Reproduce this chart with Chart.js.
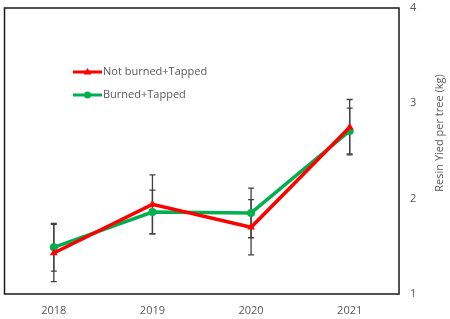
<!DOCTYPE html>
<html>
<head>
<meta charset="utf-8">
<script src="https://cdn.jsdelivr.net/npm/chart.js@4"></script>
<style>
  html, body { margin: 0; padding: 0; background: #fff; }
  #wrap { width: 450px; height: 319px; }
</style>
</head>
<body>
<div id="wrap"><canvas id="chart" width="450" height="319"></canvas></div>
<script>
// data
const years = ['2018', '2019', '2020', '2021'];
const notBurned = [1.43, 1.94, 1.70, 2.75];
const notBurnedErr = [0.30, 0.31, 0.29, 0.29];
const burned = [1.49, 1.86, 1.85, 2.71];
const burnedErr = [0.25, 0.23, 0.26, 0.24];
const yTicks = [1, 2, 3, 4];

const labelFont = { family: 'Open Sans', size: 11 };
const textColor = '#595959';

// error bars drawn through the scales
const errorBars = {
  id: 'errorBars',
  beforeDatasetsDraw(chart) {
    const ctx = chart.ctx;
    const x = chart.scales.x, y = chart.scales.y;
    const sets = [[notBurned, notBurnedErr], [burned, burnedErr]];
    ctx.save();
    ctx.strokeStyle = '#404040';
    ctx.lineWidth = 1.3;
    sets.forEach(([vals, errs]) => {
      vals.forEach((v, i) => {
        const px = x.getPixelForValue(i);
        const top = y.getPixelForValue(v + errs[i]);
        const bot = y.getPixelForValue(v - errs[i]);
        ctx.beginPath();
        ctx.moveTo(px, top); ctx.lineTo(px, bot);
        ctx.moveTo(px - 3, top); ctx.lineTo(px + 3, top);
        ctx.moveTo(px - 3, bot); ctx.lineTo(px + 3, bot);
        ctx.stroke();
      });
    });
    ctx.restore();
  }
};

// box, legend inside the plot and right-side title
const frame = {
  id: 'frame',
  afterDraw(chart) {
    const ctx = chart.ctx;
    const a = chart.chartArea;
    ctx.save();
    ctx.strokeStyle = '#1a1a1a';
    ctx.lineWidth = 1.5;
    ctx.strokeRect(a.left, a.top, a.right - a.left, a.bottom - a.top);

    // legend
    const items = [
      { text: 'Not burned+Tapped', color: '#ff0000', style: 'triangle', y: 72 },
      { text: 'Burned+Tapped', color: '#00b050', style: 'circle', y: 95 }
    ];
    items.forEach(it => {
      ctx.strokeStyle = it.color;
      ctx.fillStyle = it.color;
      ctx.lineWidth = 3;
      ctx.beginPath();
      ctx.moveTo(73, it.y); ctx.lineTo(102, it.y);
      ctx.stroke();
      if (it.style === 'circle') {
        ctx.beginPath(); ctx.arc(87.5, it.y, 3.5, 0, Math.PI * 2); ctx.fill();
      } else {
        ctx.beginPath();
        ctx.moveTo(87.5, it.y - 4); ctx.lineTo(91.5, it.y + 2.5); ctx.lineTo(83.5, it.y + 2.5);
        ctx.closePath(); ctx.fill();
      }
      ctx.fillStyle = textColor;
      ctx.font = '11px "Open Sans"';
      ctx.textBaseline = 'middle';
      ctx.textAlign = 'left';
      ctx.fillText(it.text, 103, it.y);
    });

    // axis title, reading bottom to top
    ctx.translate(440, 133);
    ctx.rotate(-Math.PI / 2);
    ctx.fillStyle = textColor;
    ctx.font = '11px "Open Sans"';
    ctx.textAlign = 'center';
    ctx.textBaseline = 'middle';
    ctx.fillText('Resin Yied per tree (kg)', 0, 0);
    ctx.restore();
  }
};

new Chart(document.getElementById('chart'), {
  type: 'line',
  data: {
    labels: years,
    datasets: [
      {
        label: 'Not burned+Tapped',
        data: notBurned,
        borderColor: '#ff0000',
        backgroundColor: '#ff0000',
        borderWidth: 3.5,
        pointStyle: 'triangle',
        pointRadius: 4.5,
        pointBorderWidth: 0,
        tension: 0
      },
      {
        label: 'Burned+Tapped',
        data: burned,
        borderColor: '#00b050',
        backgroundColor: '#00b050',
        borderWidth: 3.5,
        pointStyle: 'circle',
        pointRadius: 4,
        pointBorderWidth: 0,
        tension: 0
      }
    ]
  },
  options: {
    responsive: false,
    animation: false,
    layout: { padding: { left: 3, top: 8, right: 0, bottom: 0 } },
    plugins: { legend: { display: false }, tooltip: { enabled: false } },
    scales: {
      x: {
        offset: true,
        grid: { display: false, drawTicks: false },
        border: { display: false },
        ticks: { color: textColor, font: labelFont, padding: 10 },
        afterFit(s) { s.height = 25; s.paddingLeft = 0; s.paddingRight = 0; }
      },
      y: {
        position: 'right',
        min: 1, max: 4,
        afterBuildTicks(s) { s.ticks = yTicks.map(v => ({ value: v })); },
        grid: { display: false, drawTicks: false },
        border: { display: false },
        ticks: { color: textColor, font: labelFont, padding: 11 },
        afterFit(s) { s.width = 51; s.paddingTop = 0; s.paddingBottom = 0; }
      }
    }
  },
  plugins: [errorBars, frame]
});
</script>
</body>
</html>
